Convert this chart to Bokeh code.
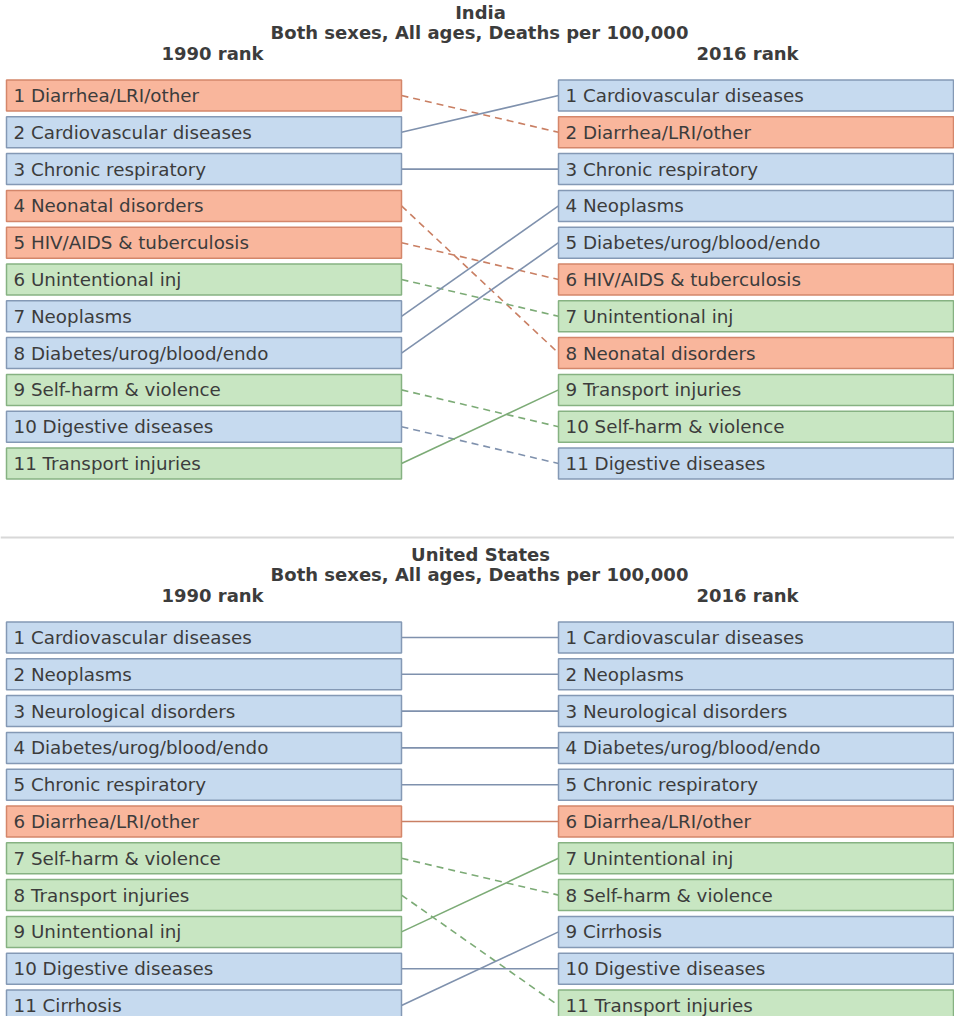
from bokeh.plotting import figure
from bokeh.models import ColumnDataSource, Range1d, Span
from bokeh.core.properties import value
from bokeh.embed import file_html
from bokeh.resources import INLINE

# ---------------- data ----------------
subtitle = "Both sexes, All ages, Deaths per 100,000"
col_left = "1990 rank"
col_right = "2016 rank"

india_title = "India"
india_1990 = ["Diarrhea/LRI/other", "Cardiovascular diseases", "Chronic respiratory",
              "Neonatal disorders", "HIV/AIDS & tuberculosis", "Unintentional inj",
              "Neoplasms", "Diabetes/urog/blood/endo", "Self-harm & violence",
              "Digestive diseases", "Transport injuries"]
india_2016 = ["Cardiovascular diseases", "Diarrhea/LRI/other", "Chronic respiratory",
              "Neoplasms", "Diabetes/urog/blood/endo", "HIV/AIDS & tuberculosis",
              "Unintentional inj", "Neonatal disorders", "Transport injuries",
              "Self-harm & violence", "Digestive diseases"]

us_title = "United States"
us_1990 = ["Cardiovascular diseases", "Neoplasms", "Neurological disorders",
           "Diabetes/urog/blood/endo", "Chronic respiratory", "Diarrhea/LRI/other",
           "Self-harm & violence", "Transport injuries", "Unintentional inj",
           "Digestive diseases", "Cirrhosis"]
us_2016 = ["Cardiovascular diseases", "Neoplasms", "Neurological disorders",
           "Diabetes/urog/blood/endo", "Chronic respiratory", "Diarrhea/LRI/other",
           "Unintentional inj", "Self-harm & violence", "Cirrhosis",
           "Digestive diseases", "Transport injuries"]

communicable = ["Diarrhea/LRI/other", "Neonatal disorders", "HIV/AIDS & tuberculosis"]
injuries = ["Unintentional inj", "Self-harm & violence", "Transport injuries"]

# ---------------- styles ----------------
FILL = {"comm": "#f9b69c", "ncd": "#c6daef", "inj": "#c8e6c2"}
EDGE = {"comm": "#d4866a", "ncd": "#8499b5", "inj": "#86b282"}
LINE = {"comm": "#c97f63", "ncd": "#7f91ad", "inj": "#7cab76"}
TXT = "#3c3c3c"
FONT = "DejaVu Sans"


def group(c):
    if c in communicable:
        return "comm"
    if c in injuries:
        return "inj"
    return "ncd"


W, H = 954, 1016
p = figure(width=W, height=H, output_backend="svg", toolbar_location=None,
           x_range=Range1d(0, W), y_range=Range1d(H, 0),
           min_border=0, outline_line_color=None)
p.axis.visible = False
p.grid.visible = False
p.background_fill_color = "white"
p.border_fill_color = "white"

LX0, LX1 = 6, 401
RX0, RX1 = 558, 953
BOX_H = 31
STEP = 36.8


def panel(title, left, right, top):
    row0 = top + 95  # center of first row
    # titles
    p.text(x=[480], y=[top + 12], text=[title], text_font=value(FONT),
           text_font_style="bold", text_font_size="18px", text_color=TXT,
           text_align="center", text_baseline="middle")
    p.text(x=[479], y=[top + 32], text=[subtitle], text_font=value(FONT),
           text_font_style="bold", text_font_size="18px", text_color=TXT,
           text_align="center", text_baseline="middle")
    p.text(x=[212, 747], y=[top + 53, top + 53],
           text=[col_left, col_right], text_font=value(FONT),
           text_font_style="bold", text_font_size="18px", text_color=TXT,
           text_align="center", text_baseline="middle")

    def ys(rank):
        return row0 + (rank - 1) * STEP

    # connectors
    for i, c in enumerate(left):
        j = right.index(c)
        g = group(c)
        dash = "7 5" if j > i else "solid"
        p.line(x=[LX1, RX0], y=[ys(i + 1), ys(j + 1)], line_color=LINE[g],
               line_width=1.6, line_dash=dash)

    for cats, x0, x1 in ((left, LX0, LX1), (right, RX0, RX1)):
        src = ColumnDataSource(dict(
            left=[x0] * len(cats), right=[x1] * len(cats),
            top=[ys(k + 1) - BOX_H / 2 for k in range(len(cats))],
            bottom=[ys(k + 1) + BOX_H / 2 for k in range(len(cats))],
            fill=[FILL[group(c)] for c in cats],
            edge=[EDGE[group(c)] for c in cats],
            tx=[x0 + 7] * len(cats),
            ty=[ys(k + 1) for k in range(len(cats))],
            label=[f"{k + 1} {c}" for k, c in enumerate(cats)],
        ))
        p.quad(left="left", right="right", top="top", bottom="bottom", source=src,
               fill_color="fill", line_color="edge", line_width=1.5)
        p.text(x="tx", y="ty", text="label", source=src, text_font=value(FONT),
               text_font_size="18.3px", text_color=TXT, text_align="left",
               text_baseline="middle")


panel(india_title, india_1990, india_2016, 0)
panel(us_title, us_1990, us_2016, 542)

p.add_layout(Span(location=537, dimension="width", line_color="#d8d8d8", line_width=2))

open("out.html", "w").write(file_html(p, INLINE))
